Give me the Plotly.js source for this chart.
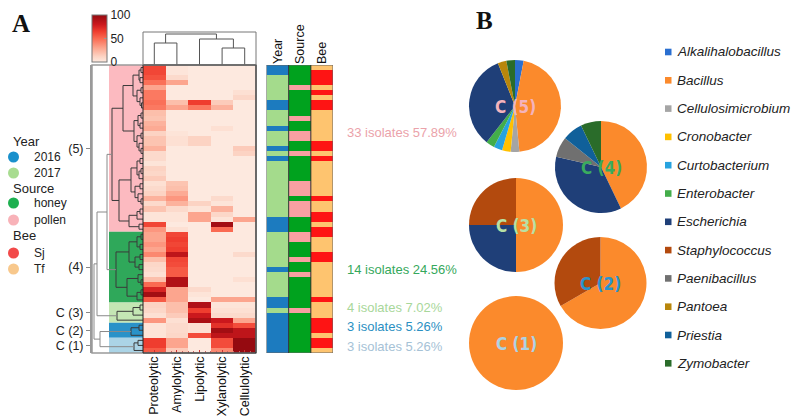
<!DOCTYPE html>
<html><head><meta charset="utf-8">
<script src="https://cdn.plot.ly/plotly-3.0.1.min.js"></script>
<style>html,body{margin:0;padding:0;background:#fff}#chart{width:792px;height:418px}</style>
</head><body><div id="chart"></div>
<script>
// ---------------- DATA ----------------
const activities = ['Proteolytic','Amylolytic','Lipolytic','Xylanolytic','Cellulolytic'];
const proteolytic  = [62,62,58,48,30,45,45,48,45,20, 18,25,28,12,18,18,25,8,8,3, 12,10,15,5,8,12,25,8,18,3, 3,62,35,30,30,35,30,40,20,10, 8,5,20,50,75,95,55,12,10,5, 35,3,3,3,65,65,55];
const amylolytic   = [2,2,8,30,0,0,0,20,30,0, 0,0,0,3,5,5,0,0,0,0, 0,0,0,18,20,28,35,25,8,3, 3,0,5,62,65,62,65,85,62,60, 55,55,90,90,30,30,30,20,20,15, 5,8,8,10,30,30,15];
const lipolytic    = [0,0,0,0,0,0,0,65,45,0, 0,0,0,0,12,12,0,0,0,0, 0,0,0,0,0,0,0,12,3,30, 30,0,0,0,0,0,0,0,0,0, 0,0,0,0,8,3,0,90,65,80, 92,5,5,60,0,0,0];
const xylanolytic  = [0,0,0,0,0,0,0,15,25,0, 0,0,5,0,0,0,0,0,0,0, 0,0,0,0,0,0,8,3,25,10, 3,95,50,0,0,0,0,0,0,0, 0,0,0,0,0,0,30,3,5,8, 80,70,95,85,60,60,40];
const cellulolytic = [0,0,0,0,0,5,10,0,0,0, 0,0,0,0,0,0,15,12,0,0, 0,0,0,0,0,0,0,0,0,0, 30,0,0,0,0,0,0,8,0,0, 0,0,5,0,0,0,30,3,5,8, 30,60,85,85,100,100,100];

const year   = [2016,2016,2017,2017,2017,2017,2017,2016,2016,2017, 2017,2017,2016,2017,2017,2017,2016,2017,2016,2017, 2017,2017,2017,2017,2017,2017,2017,2017,2017,2017, 2016,2016,2016,2017,2017,2017,2017,2017,2017,2017, 2016,2017,2017,2017,2017,2017,2016,2016,2017,2016, 2016,2016,2016,2016,2016,2016,2016];
const source = ['honey','honey','honey','honey','pollen','honey','honey','honey','honey','honey', 'pollen','honey','honey','pollen','pollen','honey','honey','pollen','honey','honey', 'honey','honey','honey','pollen','pollen','pollen','honey','pollen','pollen','pollen', 'honey','honey','honey','pollen','pollen','honey','honey','honey','pollen','honey', 'honey','pollen','honey','honey','honey','honey','honey','honey','pollen','honey', 'honey','honey','honey','honey','honey','honey','honey'];
const bee    = ['Tf','Sj','Sj','Sj','Tf','Sj','Tf','Sj','Sj','Tf', 'Tf','Tf','Tf','Tf','Tf','Sj','Sj','Tf','Sj','Tf', 'Tf','Tf','Tf','Tf','Tf','Tf','Sj','Tf','Tf','Sj', 'Sj','Tf','Sj','Sj','Tf','Tf','Tf','Sj','Sj','Tf', 'Tf','Tf','Tf','Tf','Tf','Tf','Sj','Tf','Tf','Tf', 'Sj','Sj','Sj','Tf','Sj','Sj','Tf'];

const clusterNames = ['(5)','(4)','C (3)','C (2)','C (1)'];
const clusterSizes = [33,14,4,3,3];
const clusterText  = ['33 isolates 57.89%','14 isolates 24.56%','4 isolates 7.02%','3 isolates 5.26%','3 isolates 5.26%'];
const pieNames = ['C (5)','C (4)','C (3)','C (2)','C (1)'];

// row dendrogram: [height, left, right], leaves = row index
const pinkTree = [31,
  [20, [10,[4,[2,0,1],[3,2,3]],[6,[2,4,5],[3,6,[1.5,7,8]]]],
       [9,[5,[2,9,10],[3,11,12]],[6,[2,13,14],[4,15,[2,16,17]]]]],
  [24, [12,[6,[3,18,19],[4,[2,20,21],22]],[8,[3,23,24],[5,25,[2,26,27]]]],
       [14,[6,[3,28,29],30],[4,31,32]]]];
const greenTree = [27, [14,[6,[2,33,34],[3,35,36]],[8,[3,37,38],[4,39,40]]], [16,[5,41,[2,42,43]],[6,[2,44,45],46]]];
const lgTree   = [26, [10,[3,47,48],49], 50];
const blueTree = [12, [4,51,52], 53];
const lbTree   = [9, [5,54,55], 56];
const rowTree  = [49, [46, [36, pinkTree, greenTree], lgTree], [43, blueTree, lbTree]];
const colTree  = [31, [22,0,1], [26,2,[17,3,4]]];

const genera = ['Alkalihalobacillus','Bacillus','Cellulosimicrobium','Cronobacter','Curtobacterium','Enterobacter','Escherichia','Staphylococcus','Paenibacillus','Pantoea','Priestia','Zymobacter'];
const c5 = [1,15,1,1,1,1,11,0,0,1,0,1];
const c4 = [0,6,0,0,0,0,5,0,1,0,1,1];
const c3 = [0,2,0,0,0,0,1,1,0,0,0,0];
const c2 = [0,2,0,0,0,0,0,1,0,0,0,0];
const c1 = [0,3,0,0,0,0,0,0,0,0,0,0];

// ---------------- STYLE ----------------
const W = 792, H = 418;
const px = v => v / W, py = v => 1 - v / H;
const FONT = 'Liberation Sans, Arial, sans-serif';
const genusColors = ['#2a6fd0','#fb8a2c','#a5a5a5','#ffc000','#27a3df','#43ad4a','#1f3f78','#b34a0e','#707070','#b8860b','#10609a','#2a6c2a'];
const clusterRectColors = ['#fcbac0','#2fa85a','#c4e6b4','#2a92c8','#abd4e6'];
const clusterTextColors = ['#eba2aa','#35a85c','#a8d79a','#2a8fc2','#a6c2d6'];
const pieLabelColors = ['#f4b3bc','#3aab5e','#b8e0a4','#2a93cc','#acd2e4'];
const heatScale = [[0,'#fde9df'],[0.12,'#fcd3c3'],[0.3,'#fca58e'],[0.5,'#fa6a52'],[0.65,'#ef3d2f'],[0.8,'#cb181d'],[1,'#950a10']];
const barColors = ['#1c7bbf','#a4db8c','#00a21e','#f8a0a2','#fe1414','#fec46f'];
const legendCircleColors = ['#1a90cc','#a8dc90','#1eb050','#f8b2b8','#f24a4a','#f8c88c'];

// ---------------- BUILD ----------------
const N = proteolytic.length;
const z = [];
for (let i = 0; i < N; i++) z.push([proteolytic[i], amylolytic[i], lipolytic[i], xylanolytic[i], cellulolytic[i]]);
const rows = [...Array(N).keys()];

const barZ = rows.map(i => [year[i] === 2016 ? 0 : 1, source[i] === 'honey' ? 2 : 3, bee[i] === 'Sj' ? 4 : 5]);
const barScale = [];
barColors.forEach((c, k) => { barScale.push([k / 6, c]); barScale.push([(k + 1) / 6, c]); });

function dendro(tree, rowMode, grayFrom) {
  const dark = {x: [], y: []}, gray = {x: [], y: []};
  function walk(n) {
    if (typeof n === 'number') return {p: n, h: 0};
    const a = walk(n[1]), b = walk(n[2]), h = n[0];
    const t = h >= grayFrom ? gray : dark;
    const hs = [a.h, h, h, b.h], ps = [a.p, a.p, b.p, b.p];
    if (rowMode) { t.x.push(...hs, null); t.y.push(...ps, null); }
    else { t.x.push(...ps, null); t.y.push(...hs, null); }
    return {p: (a.p + b.p) / 2, h};
  }
  walk(tree);
  return {dark, gray};
}
const rd = dendro(rowTree, true, 32);
const cd = dendro(colTree, false, 999);

const starts = []; let acc = 0;
clusterSizes.forEach(s => { starts.push(acc); acc += s; });
const centers = clusterSizes.map((s, k) => starts[k] + (s - 1) / 2);

const traces = [
  {type: 'heatmap', z: z, x: [0,1,2,3,4], y: rows, xaxis: 'x', yaxis: 'y', colorscale: heatScale, zmin: 0, zmax: 100,
   colorbar: {x: px(92), xanchor: 'left', xref: 'paper', y: py(62), yanchor: 'bottom', yref: 'paper', len: 47, lenmode: 'pixels',
              thickness: 15, thicknessmode: 'pixels', xpad: 0, ypad: 0, outlinewidth: 1, outlinecolor: '#777',
              tickvals: [0,50,100], ticks: 'inside', ticklen: 3, tickcolor: '#999', tickfont: {size: 12, color: '#222', family: FONT}}},
  {type: 'heatmap', z: barZ, x: [0,1,2], y: rows, xaxis: 'x4', yaxis: 'y4', colorscale: barScale, zmin: 0, zmax: 6, showscale: false},
  {type: 'scatter', mode: 'lines', x: rd.dark.x, y: rd.dark.y, xaxis: 'x2', yaxis: 'y2', line: {color: '#3a3a3a', width: 1}, hoverinfo: 'skip'},
  {type: 'scatter', mode: 'lines', x: rd.gray.x, y: rd.gray.y, xaxis: 'x2', yaxis: 'y2', line: {color: '#8a8a8a', width: 1}, hoverinfo: 'skip'},
  {type: 'scatter', mode: 'lines', x: cd.dark.x, y: cd.dark.y, xaxis: 'x3', yaxis: 'y3', line: {color: '#555', width: 1}, hoverinfo: 'skip'}
];

const pieData = [c5, c4, c3, c2, c1];
const pieBoxes = [[469,561,60,152],[555,647,121,213],[469,563,178,272],[554,647,237,329],[469,563,296,390]];
pieData.forEach((vals, k) => {
  const b = pieBoxes[k];
  traces.push({type: 'pie', labels: genera, values: vals, sort: false, direction: 'clockwise', rotation: 0,
    marker: {colors: genusColors, line: {width: 0}}, textinfo: 'none', hoverinfo: 'label+value', showlegend: false,
    domain: {x: [px(b[0]), px(b[1])], y: [py(b[3]), py(b[2])]}});
});

const shapes = [];
clusterSizes.forEach((s, k) => {
  shapes.push({type: 'rect', xref: 'x2', yref: 'y2', x0: 34, x1: 0, y0: starts[k] - 0.5, y1: starts[k] + s - 0.5,
    fillcolor: clusterRectColors[k], line: {width: 0}, layer: 'below'});
});
shapes.push({type: 'rect', xref: 'paper', yref: 'paper', x0: px(92), x1: px(256), y0: py(353), y1: py(65), line: {color: '#9a9a9a', width: 1.5}});
shapes.push({type: 'rect', xref: 'paper', yref: 'paper', x0: px(143), x1: px(256), y0: py(353), y1: py(65), line: {color: '#222', width: 1}});
shapes.push({type: 'rect', xref: 'paper', yref: 'paper', x0: px(143), x1: px(256), y0: py(65), y1: py(32), line: {color: '#777', width: 1}});
shapes.push({type: 'rect', xref: 'x4', yref: 'y4', x0: -0.5, x1: 2.5, y0: -0.5, y1: N - 0.5, line: {color: '#666', width: 1}});
[0.5, 1.5].forEach(v => shapes.push({type: 'line', xref: 'x4', yref: 'y4', x0: v, x1: v, y0: -0.5, y1: N - 0.5, line: {color: '#333', width: 1}}));

const annotations = [];
const txt = (x, y, text, opt = {}) => annotations.push(Object.assign({xref: 'paper', yref: 'paper', x: px(x), y: py(y), text: text, showarrow: false,
  xanchor: 'left', yanchor: 'middle', font: {family: FONT, size: 12, color: '#222'}}, opt));

txt(21, 23, '<b>A</b>', {xanchor: 'center', font: {family: 'Liberation Serif, Times New Roman, serif', size: 25, color: '#111'}});
txt(484, 20, '<b>B</b>', {xanchor: 'center', font: {family: 'Liberation Serif, Times New Roman, serif', size: 25, color: '#111'}});

const legGroups = [['Year', ['2016','2017']], ['Source', ['honey','pollen']], ['Bee', ['Sj','Tf']]];
const legHeadY = [141, 188, 236];
const legItemY = [[157,173],[203,220],[253,269]];
let ci = 0;
legGroups.forEach((g, k) => {
  txt(11, legHeadY[k], g[0], {font: {family: FONT, size: 13, color: '#222'}});
  g[1].forEach((lab, j) => {
    const yy = legItemY[k][j];
    shapes.push({type: 'circle', xref: 'paper', yref: 'paper', x0: px(8), x1: px(19), y0: py(yy + 5.5), y1: py(yy - 5.5),
      fillcolor: legendCircleColors[ci++], line: {width: 0}});
    txt(32, yy, lab, {font: {family: FONT, size: 12, color: '#222'}});
  });
});

const clusterTextY = [133, 269, 307, 326, 346];
clusterText.forEach((t, k) => txt(345, clusterTextY[k], t, {font: {family: FONT, size: 13, color: clusterTextColors[k]}}));

pieNames.forEach((t, k) => {
  const b = pieBoxes[k];
  txt((b[0] + b[1]) / 2, (b[2] + b[3]) / 2 + 1, t, {xanchor: 'center',
    font: {family: 'DejaVu Sans Condensed, Liberation Sans Narrow, Arial Narrow, Arial', size: 17, color: pieLabelColors[k], weight: 700}});
});

const legY0 = 52, legDY = 28.3;
genera.forEach((g, k) => {
  const yy = legY0 + k * legDY;
  shapes.push({type: 'rect', xref: 'paper', yref: 'paper', x0: px(665), x1: px(671.5), y0: py(yy + 3.3), y1: py(yy - 3.3), fillcolor: genusColors[k], line: {width: 0}});
  txt(675, yy, '<i>' + g + '</i>', {font: {family: FONT, size: 13.5, color: '#222'}});
});

const layout = {
  width: W, height: H, margin: {l: 0, r: 0, t: 0, b: 0}, paper_bgcolor: '#fff', plot_bgcolor: 'rgba(0,0,0,0)', showlegend: false,
  font: {family: FONT, size: 12, color: '#222'},
  xaxis: {domain: [px(143), px(256)], range: [-0.5, 4.5], anchor: 'y', tickvals: [0,1,2,3,4], ticktext: activities, tickangle: -90,
          ticks: 'inside', ticklen: 3, tickcolor: '#c33', showgrid: false, zeroline: false, showline: false, tickfont: {size: 12.5, color: '#111'},
          minor: {dtick: 0.25, ticks: 'inside', ticklen: 2, tickcolor: '#c66', showgrid: false}},
  yaxis: {domain: [py(353), py(65)], range: [N - 0.5, -0.5], anchor: 'x', visible: false},
  xaxis2: {domain: [px(92), px(143)], range: [51, 0], anchor: 'y2', visible: false},
  yaxis2: {domain: [py(353), py(65)], range: [N - 0.5, -0.5], anchor: 'x2', tickvals: centers, ticktext: clusterNames,
           ticks: 'outside', ticklen: 4, tickcolor: '#888', showline: true, linecolor: '#9a9a9a', linewidth: 2, showgrid: false, zeroline: false,
           tickfont: {size: 12.5, color: '#222'}},
  xaxis3: {domain: [px(143), px(256)], range: [-0.5, 4.5], anchor: 'y3', visible: false},
  yaxis3: {domain: [py(65), py(32)], range: [0, 33], anchor: 'x3', visible: false},
  xaxis4: {domain: [px(266.5), px(333)], range: [-0.5, 2.5], anchor: 'y4', side: 'top', tickvals: [0,1,2], ticktext: ['Year','Source','Bee'],
           tickangle: -90, ticks: '', showgrid: false, zeroline: false, showline: false, tickfont: {size: 12.5, color: '#111'}},
  yaxis4: {domain: [py(353), py(65)], range: [N - 0.5, -0.5], anchor: 'x4', visible: false},
  shapes: shapes, annotations: annotations
};

Plotly.newPlot('chart', traces, layout, {displayModeBar: false, staticPlot: true});
</script></body></html>
